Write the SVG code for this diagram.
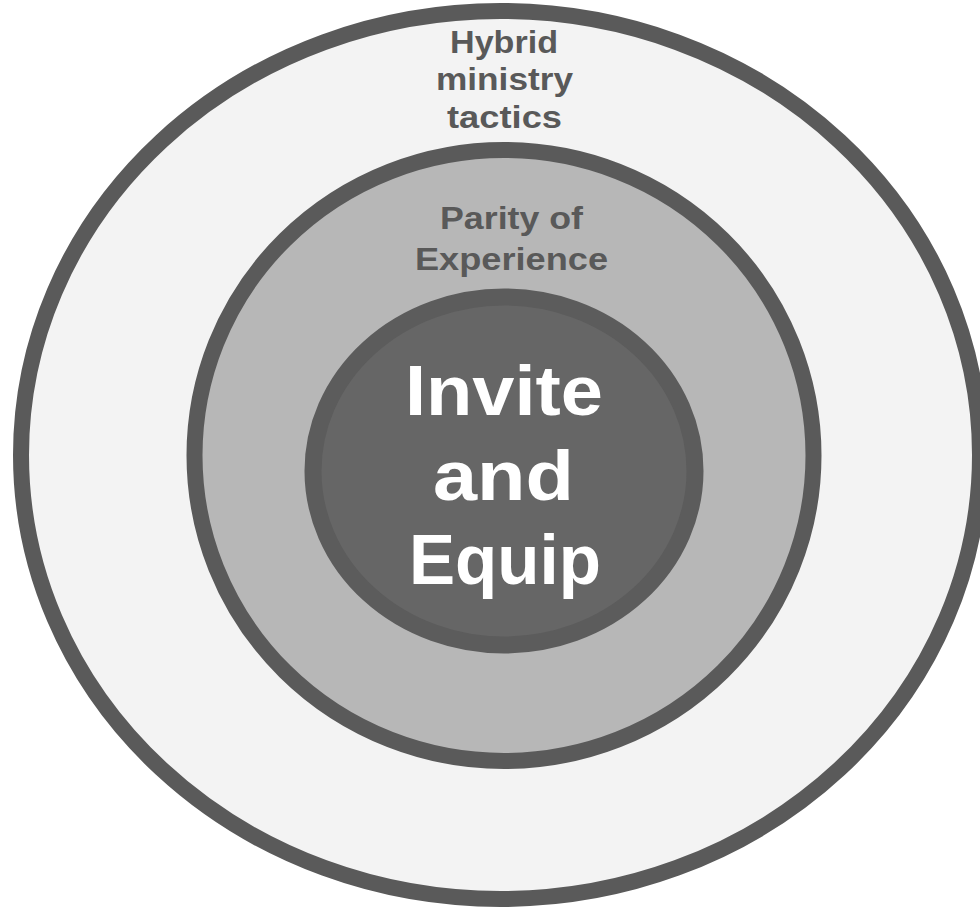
<svg xmlns="http://www.w3.org/2000/svg" width="980" height="907" viewBox="0 0 980 907">
<style>
.ring{stroke:#5a5a5a;stroke-width:16}
.lbl{font-family:"Liberation Sans",Arial,sans-serif;font-weight:700;text-anchor:middle;fill:#595959}
.core{font-family:"Liberation Sans",Arial,sans-serif;font-weight:700;text-anchor:middle;fill:#ffffff;font-size:70px}
</style>
<rect width="980" height="907" fill="#ffffff"/>
<g id="outer">
<ellipse class="ring" cx="500.5" cy="455" rx="479.5" ry="444" fill="#f3f3f3"/>
<text class="lbl" font-size="32" x="504" y="53" textLength="108" lengthAdjust="spacingAndGlyphs">Hybrid</text>
<text class="lbl" font-size="32" x="504.5" y="90" textLength="137" lengthAdjust="spacingAndGlyphs">ministry</text>
<text class="lbl" font-size="32" x="504.5" y="128" textLength="115" lengthAdjust="spacingAndGlyphs">tactics</text>
</g>
<g id="middle">
<ellipse class="ring" cx="504" cy="455.5" rx="309.5" ry="305.5" fill="#b7b7b7"/>
<text class="lbl" font-size="31" x="511.5" y="229" textLength="143" lengthAdjust="spacingAndGlyphs">Parity of</text>
<text class="lbl" font-size="31" x="511.5" y="270" textLength="193" lengthAdjust="spacingAndGlyphs">Experience</text>
</g>
<g id="inner">
<ellipse cx="504" cy="471" rx="191" ry="174" fill="#666666" stroke="#5c5c5c" stroke-width="17"/>
<text class="core" x="504" y="415" textLength="198" lengthAdjust="spacingAndGlyphs">Invite</text>
<text class="core" x="503.5" y="500" textLength="141" lengthAdjust="spacingAndGlyphs">and</text>
<text class="core" x="505" y="584" textLength="192" lengthAdjust="spacingAndGlyphs">Equip</text>
</g>
<g id="connectors"/>
</svg>
